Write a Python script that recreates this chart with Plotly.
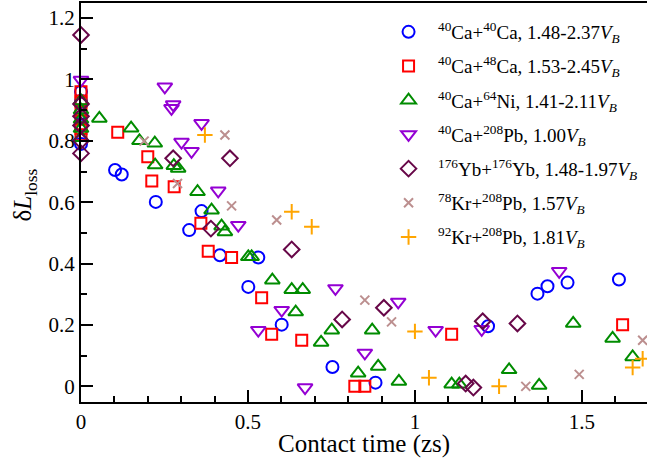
import plotly.graph_objects as go

# ---- data (contact time in zs, delta L_loss) ----
caca_x = [0, 0, 0, 0, 0, 0.102, 0.122, 0.224, 0.361, 0.324, 0.416, 0.531, 0.501, 0.601, 0.753, 0.882, 1.219, 1.367, 1.397, 1.457, 1.611]
caca_y = [0.79, 0.85, 0.89, 0.93, 0.96, 0.705, 0.69, 0.601, 0.571, 0.509, 0.427, 0.42, 0.324, 0.201, 0.063, 0.012, 0.196, 0.302, 0.326, 0.338, 0.348]

ca48_x = [0, 0, 0, 0, 0, 0, 0.110, 0.200, 0.212, 0.279, 0.359, 0.381, 0.451, 0.541, 0.571, 0.661, 0.820, 0.850, 1.110, 1.622]
ca48_y = [0.96, 0.93, 0.90, 0.87, 0.84, 0.82, 0.828, 0.748, 0.669, 0.650, 0.531, 0.440, 0.420, 0.289, 0.170, 0.150, 0.0, 0.0, 0.170, 0.201]

cani_x = [0, 0, 0, 0, 0, 0.055, 0.150, 0.175, 0.221, 0.222, 0.278, 0.291, 0.349, 0.391, 0.421, 0.431, 0.501, 0.511, 0.573, 0.631, 0.664, 0.643, 0.751, 0.719, 0.872, 0.890, 0.830, 0.952, 1.110, 1.133, 1.282, 1.372, 1.474, 1.592, 1.652]
cani_y = [0.93, 0.90, 0.87, 0.84, 0.81, 0.873, 0.841, 0.800, 0.792, 0.721, 0.719, 0.710, 0.634, 0.574, 0.522, 0.503, 0.422, 0.422, 0.346, 0.315, 0.315, 0.242, 0.183, 0.143, 0.183, 0.065, 0.043, 0.016, 0.007, 0.007, 0.054, 0.003, 0.205, 0.156, 0.096]

capb_x = [0, 0.251, 0.276, 0.271, 0.301, 0.331, 0.361, 0.411, 0.471, 0.531, 0.601, 0.671, 0.762, 0.850, 0.950, 1.062, 1.200, 1.432]
capb_y = [0.998, 0.976, 0.918, 0.906, 0.796, 0.766, 0.857, 0.637, 0.525, 0.183, 0.248, -0.004, 0.319, 0.109, 0.275, 0.183, 0.186, 0.375]

ybyb_x = [0, 0, 0, 0, 0, 0, 0.276, 0.446, 0.389, 0.631, 0.782, 0.907, 1.203, 1.307, 1.152, 1.175]
ybyb_y = [1.145, 0.92, 0.88, 0.85, 0.80, 0.759, 0.743, 0.743, 0.514, 0.446, 0.218, 0.256, 0.212, 0.205, 0.009, -0.004]

kr78_x = [0.189, 0.289, 0.431, 0.451, 0.586, 0.850, 0.930, 1.332, 1.492, 1.682]
kr78_y = [0.799, 0.661, 0.819, 0.588, 0.542, 0.281, 0.210, 0.0, 0.039, 0.150]

kr92_x = [0.371, 0.631, 0.691, 1.000, 1.042, 1.252, 1.652, 1.682]
kr92_y = [0.819, 0.569, 0.520, 0.179, 0.028, 0.0, 0.061, 0.090]

names = [
    "<sup>40</sup>Ca+<sup>40</sup>Ca, 1.48-2.37<i>V<sub>B</sub></i>",
    "<sup>40</sup>Ca+<sup>48</sup>Ca, 1.53-2.45<i>V<sub>B</sub></i>",
    "<sup>40</sup>Ca+<sup>64</sup>Ni, 1.41-2.11<i>V<sub>B</sub></i>",
    "<sup>40</sup>Ca+<sup>208</sup>Pb, 1.00<i>V<sub>B</sub></i>",
    "<sup>176</sup>Yb+<sup>176</sup>Yb, 1.48-1.97<i>V<sub>B</sub></i>",
    "<sup>78</sup>Kr+<sup>208</sup>Pb, 1.57<i>V<sub>B</sub></i>",
    "<sup>92</sup>Kr+<sup>208</sup>Pb, 1.81<i>V<sub>B</sub></i>",
]
xs = [caca_x, ca48_x, cani_x, capb_x, ybyb_x, kr78_x, kr92_x]
ys = [caca_y, ca48_y, cani_y, capb_y, ybyb_y, kr78_y, kr92_y]
symbols = ["circle-open", "square-open", "triangle-up-open", "triangle-down-open",
           "diamond-open", "x-thin-open", "cross-thin-open"]
colors = ["#0000FF", "#FF0000", "#008C00", "#9400D3", "#670748", "#BC8F8F", "#FFA500"]
sizes = [12, 11, 13, 13, 12, 9, 11]

fig = go.Figure()
for i in range(7):
    fig.add_trace(go.Scatter(
        x=xs[i], y=ys[i], mode="markers", name=names[i],
        legendgroup=f"g{i}",
        cliponaxis=False,
        marker=dict(symbol=symbols[i], size=sizes[i], color=colors[i],
                    line=dict(width=2, color=colors[i])),
    ))

font_family = "Liberation Serif, Times New Roman, serif"

fig.update_layout(
    width=647, height=461,
    margin=dict(l=81, r=0, t=3, b=59),
    paper_bgcolor="white", plot_bgcolor="white",
    font=dict(family=font_family, size=21, color="black"),
    showlegend=True,
    legend=dict(x=0.5266, y=0.975, xanchor="left", yanchor="top",
                font=dict(family=font_family, size=19, color="black"),
                bgcolor="rgba(0,0,0,0)", tracegroupgap=6.5, itemwidth=49),
    xaxis=dict(range=[0, 1.695], showline=True, linecolor="black", linewidth=2,
               mirror=True, showgrid=False, zeroline=False,
               ticks="inside", ticklen=12, tickwidth=2, tickcolor="black",
               tickmode="array", tickvals=[0, 0.5, 1, 1.5], ticktext=["0", "0.5", "1", "1.5"],
               minor=dict(dtick=0.1, tick0=0, ticks="inside", ticklen=6, tickwidth=2, tickcolor="black"),
               tickfont=dict(size=21)),
    yaxis=dict(range=[-0.051, 1.249], showline=True, linecolor="black", linewidth=2,
               mirror=False, showgrid=False, zeroline=False,
               ticks="inside", ticklen=12, tickwidth=2, tickcolor="black",
               tickmode="array", tickvals=[0, 0.2, 0.4, 0.6, 0.8, 1.0, 1.2],
               ticktext=["0", "0.2", "0.4", "0.6", "0.8", "1", "1.2"],
               minor=dict(dtick=0.1, tick0=0, ticks="inside", ticklen=6, tickwidth=2, tickcolor="black"),
               tickfont=dict(size=21)),
    annotations=[
        dict(text="Contact time (zs)", x=0.5, y=-0.105, xref="paper", yref="paper",
             xanchor="center", yanchor="middle", showarrow=False,
             font=dict(family=font_family, size=25)),
        dict(text="δ<i>L</i><sub>loss</sub>", x=-0.099, y=0.52, xref="paper", yref="paper",
             xanchor="center", yanchor="middle", showarrow=False, textangle=-90,
             font=dict(family=font_family, size=25)),
    ],
)

fig.write_html("out.html")
